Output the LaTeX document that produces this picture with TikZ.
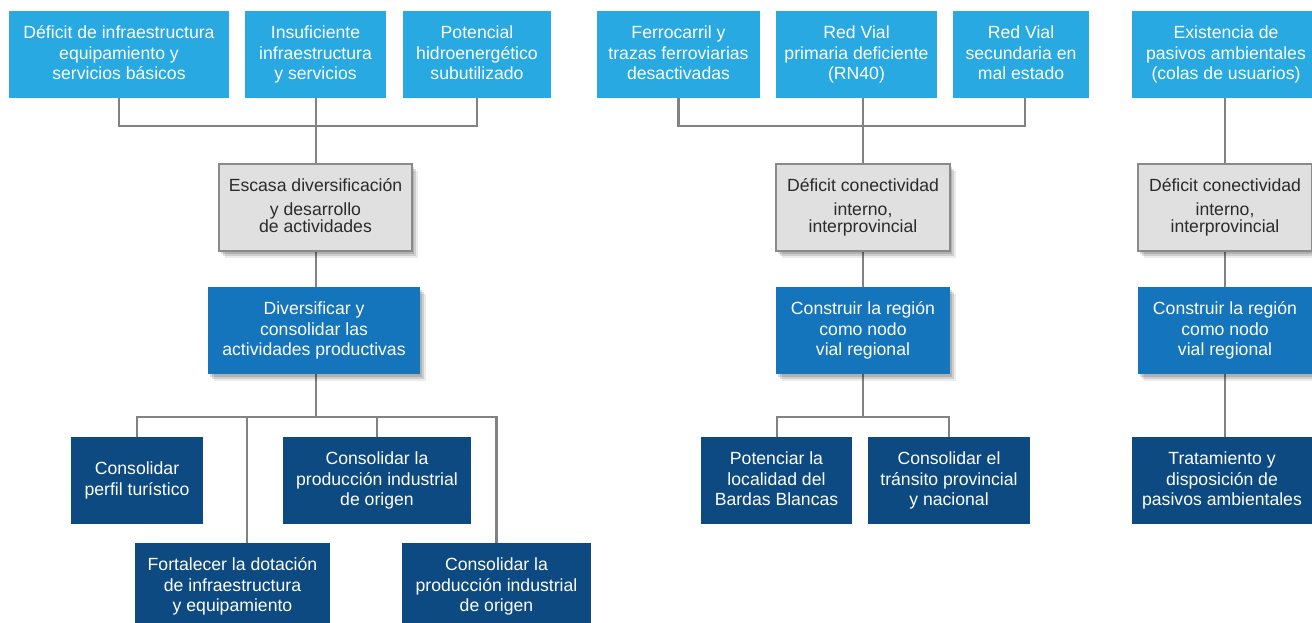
\documentclass[tikz,border=0pt]{standalone}
\usepackage{fontspec}
\setmainfont{Liberation Sans}
\usetikzlibrary{shadows,backgrounds}
\definecolor{topblue}{HTML}{29A9E1}
\definecolor{midblue}{HTML}{1474BC}
\definecolor{darkblue}{HTML}{0C4A81}
\definecolor{grayfill}{HTML}{E0E0E0}
\definecolor{grayedge}{HTML}{8A8A8A}
\definecolor{graytext}{HTML}{2B2B2B}
\definecolor{connline}{HTML}{828282}
\tikzset{
  basebox/.style={rectangle, inner sep=0pt, align=center,
    font=\fontsize{17.7}{20.5}\selectfont, minimum height=87bp,
    execute at begin node={\rule{0pt}{16.75bp}},
    execute at end node={\rule[-3.75bp]{0pt}{0pt}}},
  softshadow/.style={
    drop shadow={shadow xshift=2bp, shadow yshift=-3bp, opacity=0.14, fill=black},
    drop shadow={shadow xshift=4bp, shadow yshift=-5bp, opacity=0.12, fill=black},
    drop shadow={shadow xshift=6bp, shadow yshift=-7bp, opacity=0.08, fill=black}},
  topbox/.style={basebox, fill=topblue, text=white},
  probbox/.style={basebox, fill=grayfill, draw=grayedge, line width=1.6bp, text=graytext, softshadow},
  goalbox/.style={basebox, fill=midblue, text=white, softshadow},
  actbox/.style={basebox, fill=darkblue, text=white},
  conn/.style={draw=connline, line width=2.8bp}
}
\begin{document}
\begin{tikzpicture}[x=1bp,y=-1bp]
\useasboundingbox (0,0) rectangle (1312,623);
% top row
\node[topbox, minimum width=220bp] (b1) at (119,54.5) {Déficit de infraestructura\\equipamiento y\\servicios básicos};
\node[topbox, minimum width=141bp] (b2) at (315.5,54.5) {Insuficiente\\infraestructura\\y servicios};
\node[topbox, minimum width=148bp] (b3) at (477,54.5) {Potencial\\hidroenergético\\subutilizado};
\node[topbox, minimum width=163bp] (b4) at (678.5,54.5) {Ferrocarril y\\trazas ferroviarias\\desactivadas};
\node[topbox, minimum width=161bp] (b5) at (856.5,54.5) {Red Vial\\primaria deficiente\\(RN40)};
\node[topbox, minimum width=136bp] (b6) at (1021,54.5) {Red Vial\\secundaria en\\mal estado};
\node[topbox, minimum width=188bp] (b7) at (1226,54.5) {Existencia de\\pasivos ambientales\\(colas de usuarios)};
% problem boxes
\node[probbox, minimum width=193bp] (g1) at (315.5,207.5) {Escasa diversificación\\[4bp]y desarrollo\\[-3.5bp]de actividades};
\node[probbox, minimum width=174bp] (g2) at (863,207.5) {Déficit conectividad\\[4bp]interno,\\[-3.5bp]interprovincial};
\node[probbox, minimum width=174bp] (g3) at (1225,207.5) {Déficit conectividad\\[4bp]interno,\\[-3.5bp]interprovincial};
% goal boxes
\node[goalbox, minimum width=212bp] (m1) at (314,330.5) {Diversificar y\\consolidar las\\actividades productivas};
\node[goalbox, minimum width=174bp] (m2) at (863,330.5) {Construir la región\\como nodo\\vial regional};
\node[goalbox, minimum width=174bp] (m3) at (1225,330.5) {Construir la región\\como nodo\\vial regional};
% action boxes
\node[actbox, minimum width=132bp] (d1) at (137,480.5) {Consolidar\\perfil turístico};
\node[actbox, minimum width=188bp] (d2) at (377,480.5) {Consolidar la\\producción industrial\\de origen};
\node[actbox, minimum width=195bp] (d3) at (232.5,586.5) {Fortalecer la dotación\\de infraestructura\\y equipamiento};
\node[actbox, minimum width=189bp] (d4) at (496.5,586.5) {Consolidar la\\producción industrial\\de origen};
\node[actbox, minimum width=151bp] (d5) at (776.5,480.5) {Potenciar la\\localidad del\\Bardas Blancas};
\node[actbox, minimum width=162bp] (d6) at (949,480.5) {Consolidar el\\tránsito provincial\\y nacional};
\node[actbox, minimum width=180bp] (d7) at (1222,480.5) {Tratamiento y\\disposición de\\pasivos ambientales};
% junctions
\coordinate (j1) at (316,126);
\coordinate (j2) at (863,126);
\coordinate (jb1) at (316,417);
\coordinate (jb2) at (863,417);
\coordinate (d3top) at (247,543);
\coordinate (d5top) at (777,437);
\begin{scope}[on background layer]
\fill[white] (0,0) rectangle (1312,623);
% left cluster
\draw[conn] (b1.south) -- (b1.south |- j1) -- (b3.south |- j1) -- (b3.south);
\draw[conn] (g1.north -| j1) -- (j1 |- b2.south);
\draw[conn] (g1.south -| j1) -- (j1 |- m1.north);
\draw[conn] (m1.south -| jb1) -- (jb1);
\draw[conn] (d1.north) -- (d1.north |- jb1) -- (d4.north |- jb1) -- (d4.north);
\draw[conn] (d2.north) -- (d2.north |- jb1);
\draw[conn] (d3top) -- (d3top |- jb1);
% middle cluster
\draw[conn] (b4.south) -- (b4.south |- j2) -- ([xshift=4bp]b6.south |- j2) -- ([xshift=4bp]b6.south);
\draw[conn] (g2.north) -- (g2.north |- b5.south);
\draw[conn] (g2.south) -- (m2.north);
\draw[conn] (m2.south) -- (jb2);
\draw[conn] (d5top) -- (d5top |- jb2) -- (d6.north |- jb2) -- (d6.north);
% right cluster
\draw[conn] (g3.north) -- (g3.north |- b7.south);
\draw[conn] (g3.south) -- (m3.north);
\draw[conn] (m3.south) -- (m3.south |- d7.north);
\end{scope}
\end{tikzpicture}
\end{document}
